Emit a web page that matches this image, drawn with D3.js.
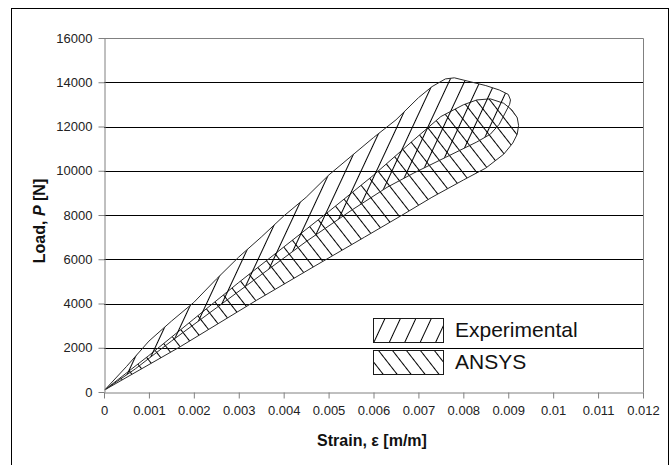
<!DOCTYPE html>
<html><head><meta charset="utf-8">
<script src="https://cdn.jsdelivr.net/npm/d3@7"></script>
<style>
html,body{margin:0;padding:0;background:#fff;}
svg{display:block;font-family:Arial,"Liberation Sans",sans-serif;}
</style></head>
<body><svg id="c" width="672" height="465"></svg>
<script>
// ---- data ----
const xTicks = [0,0.001,0.002,0.003,0.004,0.005,0.006,0.007,0.008,0.009,0.01,0.011,0.012];
const xTickLabels = ["0","0.001","0.002","0.003","0.004","0.005","0.006","0.007","0.008","0.009","0.01","0.011","0.012"];
const yTicks = [0,2000,4000,6000,8000,10000,12000,14000,16000];
const yTickLabels = ["0","2000","4000","6000","8000","10000","12000","14000","16000"];
const seriesNames = ["Experimental","ANSYS"];
// Experimental loop: strain [m/m], load [N] (loading then unloading branch)
const expStrain = [0.00002,0.0005,0.001,0.0015,0.002,0.0025,0.003,0.0035,0.004,0.0045,0.005,0.0055,0.006,0.0065,0.007,0.0073,0.0076,0.0078,0.0081,0.0085,0.0088,0.0090,0.00905,
                   0.00903,0.0088,0.0086,0.0083,0.0076,0.0069,0.0063,0.0055,0.0045,0.0035,0.0025,0.0015,0.0007,0.00002];
const expLoad   = [100,1150,2300,3200,4050,5100,6100,7000,7950,8800,9800,10650,11500,12300,13300,13800,14150,14200,14050,13850,13650,13450,13200,
                   13000,12100,11650,11300,10600,9900,9250,8200,6800,5300,3800,2300,1050,100];
// ANSYS loop
const ansStrain = [0.00002,0.001,0.002,0.003,0.004,0.005,0.006,0.0069,0.0075,0.008,0.0083,0.0086,0.0089,0.00908,0.0092,0.00923,
                   0.0092,0.0091,0.0089,0.0085,0.008,0.0073,0.0066,0.0058,0.0047,0.0034,0.0017,0.00002];
const ansLoad   = [100,1650,3300,4950,6550,8150,9800,11400,12450,12980,13200,13250,13050,12750,12400,12050,
                   11650,11250,10750,10120,9580,8800,7950,7000,5700,4150,2050,100];

// ---- chart ----
const svg = d3.select("#c");
const x = d3.scaleLinear().domain([0,0.012]).range([104,643]);
const y = d3.scaleLinear().domain([0,16000]).range([392,38]);

// outer frame
svg.append("rect").attr("x",11.5).attr("y",8.5).attr("width",657).attr("height",470)
  .attr("fill","none").attr("stroke","#000").attr("stroke-width",1);

const defs = svg.append("defs");
function hatch(id, angle, gap){
  const p = defs.append("pattern").attr("id",id).attr("patternUnits","userSpaceOnUse")
    .attr("width",gap).attr("height",gap).attr("patternTransform",`rotate(${angle})`);
  p.append("line").attr("x1",Math.floor(gap/2)+0.5).attr("y1",-1).attr("x2",Math.floor(gap/2)+0.5).attr("y2",gap+1)
    .attr("stroke","#000").attr("stroke-width",1).attr("shape-rendering","crispEdges");
}
hatch("hExp", 25, 14);
hatch("hAns", -38, 11);

// gridlines
svg.append("g").selectAll("line").data(yTicks.filter(v=>v>0 && v<16000)).join("line")
  .attr("x1",x(0)).attr("x2",x(0.012))
  .attr("y1",d=>Math.round(y(d))+0.5).attr("y2",d=>Math.round(y(d))+0.5)
  .attr("stroke","#000").attr("stroke-width",1);
// plot border top/right gray
svg.append("path")
  .attr("d",`M${x(0)},${Math.round(y(16000))+0.5}H${Math.round(x(0.012))+0.5}V${Math.round(y(0))+0.5}`)
  .attr("fill","none").attr("stroke","#808080");

const line = d3.line().x(d=>x(d[0])).y(d=>y(d[1]));
const ansPts = ansStrain.map((s,i)=>[s,ansLoad[i]]);
const expPts = expStrain.map((s,i)=>[s,expLoad[i]]);
svg.append("path").attr("d",line(ansPts)+"Z").attr("fill","url(#hAns)")
  .attr("stroke","#2a2a2a").attr("stroke-width",1);
svg.append("path").attr("d",line(expPts)+"Z").attr("fill","url(#hExp)")
  .attr("stroke","#2a2a2a").attr("stroke-width",1);

// axes
const yAx = svg.append("g").attr("transform",`translate(${Math.round(x(0))+0.5},0)`)
  .call(d3.axisLeft(y).tickValues(yTicks).tickFormat((d,i)=>yTickLabels[i]).tickSize(6).tickPadding(6).tickSizeOuter(0));
const xAx = svg.append("g").attr("transform",`translate(0,${Math.round(y(0))+0.5})`)
  .call(d3.axisBottom(x).tickValues(xTicks).tickFormat((d,i)=>xTickLabels[i]).tickSize(6).tickPadding(7).tickSizeOuter(0));
[yAx,xAx].forEach(g=>{
  g.select(".domain").attr("stroke","#808080");
  g.selectAll(".tick line").attr("stroke","#808080");
  g.selectAll(".tick text").attr("fill","#222").style("font-size","13px").style("font-family","Arial,'Liberation Sans',sans-serif");
});

// axis titles
svg.append("text").attr("x",372).attr("y",446).attr("text-anchor","middle")
  .style("font-size","16px").style("font-weight","bold").attr("fill","#111")
  .text("Strain, ε [m/m]");
const yt = svg.append("text").attr("transform","translate(45,221) rotate(-90)").attr("text-anchor","middle")
  .style("font-size","16px").style("font-weight","bold").attr("fill","#111");
yt.append("tspan").text("Load, ");
yt.append("tspan").style("font-style","italic").text("P");
yt.append("tspan").text(" [N]");

// legend
const leg = svg.append("g");
const legFill = ["url(#hExp)","url(#hAns)"];
const legY = [318,350];
seriesNames.forEach((n,i)=>{
  leg.append("rect").attr("x",373.5).attr("y",legY[i]+0.5).attr("width",70).attr("height",24)
    .attr("fill",legFill[i]).attr("stroke","#1a1a1a");
  leg.append("text").attr("x",455).attr("y",legY[i]+19).style("font-size","21px").attr("fill","#111").text(n);
});
</script></body></html>
